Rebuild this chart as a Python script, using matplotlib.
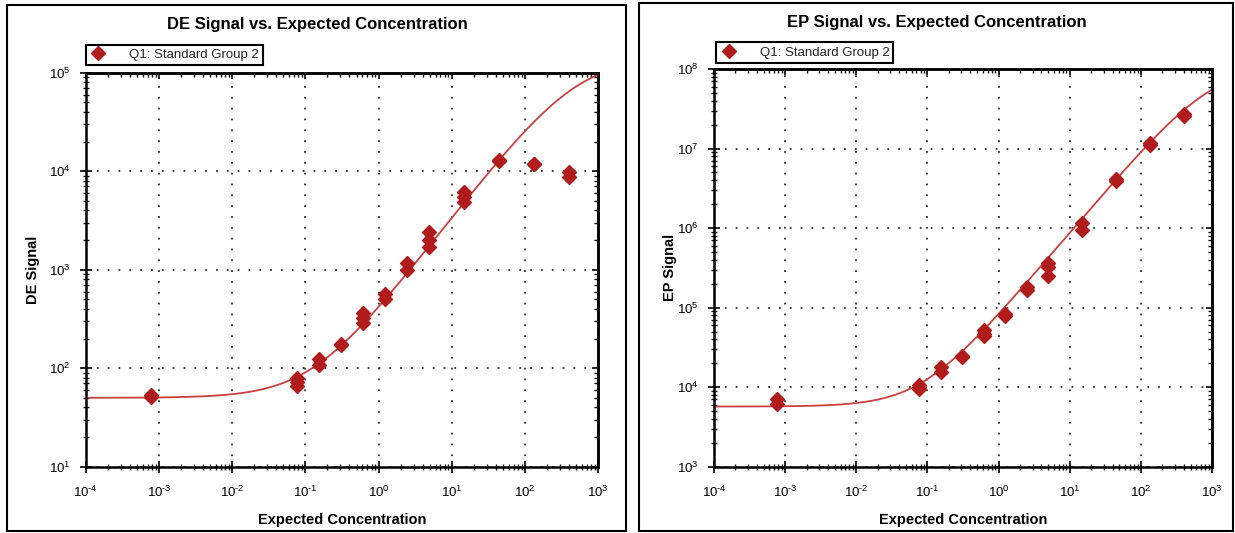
import numpy as np
import matplotlib
matplotlib.use('Agg')
import matplotlib.pyplot as plt
from matplotlib.patches import Rectangle
from matplotlib.ticker import LogLocator, NullFormatter, FuncFormatter

plt.rcParams['font.family'] = ['Liberation Sans', 'DejaVu Sans']
plt.rcParams['mathtext.fontset'] = 'custom'
plt.rcParams['mathtext.rm'] = 'Liberation Sans'
plt.rcParams['mathtext.it'] = 'Liberation Sans:italic'
plt.rcParams['mathtext.bf'] = 'Liberation Sans:bold'
plt.rcParams['axes.unicode_minus'] = False

# replicate wells, expected concentration vs signal
de_conc = [0.00077, 0.00077,
           0.077, 0.077, 0.077, 0.154, 0.154, 0.309, 0.309,
           0.617, 0.617, 0.617, 1.23, 1.23, 2.47, 2.47,
           4.94, 4.94, 4.94, 14.8, 14.8, 14.8,
           44.4, 44.4, 133, 133, 400, 400]
de_signal = [51, 53,
             79, 72, 66, 123, 107, 172, 176,
             363, 324, 288, 563, 500, 1180, 1000,
             2400, 2000, 1700, 6100, 5450, 4830,
             12900, 12700, 11900, 11700, 9800, 8700]

ep_conc = [0.00077, 0.00077,
           0.077, 0.077, 0.077, 0.154, 0.154, 0.309, 0.309,
           0.617, 0.617, 0.617, 1.23, 1.23, 2.47, 2.47,
           4.94, 4.94, 4.94, 14.8, 14.8,
           44.4, 44.4, 133, 133, 400, 400]
ep_signal = [7000, 6100,
             10500, 10000, 9500, 18000, 15500, 24500, 24000,
             52000, 47000, 44500, 84000, 79000, 182000, 165000,
             363000, 323000, 251000, 1150000, 950000,
             4100000, 3900000, 11800000, 11200000, 27500000, 26000000]

# 4PL fit: bottom, top, inflection, hill slope
de_fit = (50, 145000, 500, 0.96)
ep_fit = (5700, 1.1e8, 1000, 1.05)

MARK = '#b01c1c'
LINE = '#c84040'
W, H = 1235, 533


def four_pl(x, bottom, top, c, b):
    r = (x / c) ** b
    return bottom + (top - bottom) * r / (1 + r)


def pow10(v, pos):
    e = int(round(np.log10(v)))
    s = r'\text{-}%d' % -e if e < 0 else '%d' % e
    return r'$10^{%s}$' % s


def px_axes(x0, y0, x1, y1):
    return [x0 / W, 1 - y1 / H, (x1 - x0) / W, (y1 - y0) / H]


def panel(ax, conc, signal, fit, ylim, ylabel, ylab_x, leg_dx, leg_dy):
    xs = np.logspace(-4, 3, 500)
    ax.plot(xs, four_pl(xs, *fit), color=LINE, lw=1.3, zorder=2)
    ax.plot(conc, signal, 'D', color=MARK, ms=7, ls='none',
            label='Q1: Standard Group 2', zorder=3)
    ax.set_xscale('log')
    ax.set_yscale('log')
    ax.set_xlim(1e-4, 1e3)
    ax.set_ylim(*ylim)
    for a in (ax.xaxis, ax.yaxis):
        a.set_major_locator(LogLocator(base=10, numticks=20))
        a.set_minor_locator(LogLocator(base=10, subs=np.arange(2, 10), numticks=20))
        a.set_minor_formatter(NullFormatter())
        a.set_major_formatter(FuncFormatter(pow10))
    ax.grid(True, which='major', color='#333333', lw=1.3, ls=(0, (1, 5)))
    ax.tick_params(which='major', direction='inout', length=8, width=1.2,
                   labelsize=9.5)
    ax.tick_params(axis='x', which='major', pad=9)
    ax.tick_params(axis='y', which='major', pad=7)
    ax.tick_params(which='minor', direction='inout', length=5, width=1.0)
    for s in ax.spines.values():
        s.set_linewidth(1.8)
    ax.set_xlabel('Expected Concentration', fontsize=10.5, fontweight='bold')
    ax.set_ylabel(ylabel, fontsize=10.5, fontweight='bold')
    ax.xaxis.set_label_coords(0.5, -0.117)
    ax.yaxis.set_label_coords(ylab_x, 0.5)

    # inward ticks on top and right
    top = ax.secondary_xaxis('top')
    right = ax.secondary_yaxis('right')
    for sec, a in ((top, top.xaxis), (right, right.yaxis)):
        a.set_major_locator(LogLocator(base=10, numticks=20))
        a.set_minor_locator(LogLocator(base=10, subs=np.arange(2, 10), numticks=20))
        a.set_major_formatter(NullFormatter())
        a.set_minor_formatter(NullFormatter())
        sec.tick_params(which='major', direction='in', length=4, width=1.2)
        sec.tick_params(which='minor', direction='in', length=3, width=1.0)
        for s in sec.spines.values():
            s.set_linewidth(1.8)

    leg = ax.legend(loc='lower left', bbox_to_anchor=(leg_dx, 1 + leg_dy),
                    borderaxespad=0, fancybox=False, framealpha=1,
                    edgecolor='black', fontsize=9.5, handlelength=1.3,
                    handletextpad=1.7, borderpad=0.3, labelcolor='#222222')
    leg.get_frame().set_linewidth(1.5)


fig = plt.figure(figsize=(W / 100, H / 100), dpi=100)

ax1 = fig.add_axes(px_axes(85.7, 72.7, 598.3, 466.7))
panel(ax1, de_conc, de_signal, de_fit, (1e1, 1e5), 'DE Signal', -0.09, 0.0, 0.02)

ax2 = fig.add_axes(px_axes(714, 69, 1212, 466.7))
panel(ax2, ep_conc, ep_signal, ep_fit, (1e3, 1e8), 'EP Signal', -0.075, 0.004, 0.016)

fig.text(317 / W, 1 - 25 / H, 'DE Signal vs. Expected Concentration',
         ha='center', va='center', fontsize=12, fontweight='bold')
fig.text(937 / W, 1 - 22 / H, 'EP Signal vs. Expected Concentration',
         ha='center', va='center', fontsize=12, fontweight='bold')

# panel frames
for x0, y0, x1, y1 in ((7, 5, 626, 531), (639, 3, 1233, 531)):
    fig.add_artist(Rectangle((x0 / W, 1 - y1 / H), (x1 - x0) / W, (y1 - y0) / H,
                             transform=fig.transFigure, fill=False,
                             lw=1.5, ec='black'))

fig.savefig('out.png', dpi=100)
